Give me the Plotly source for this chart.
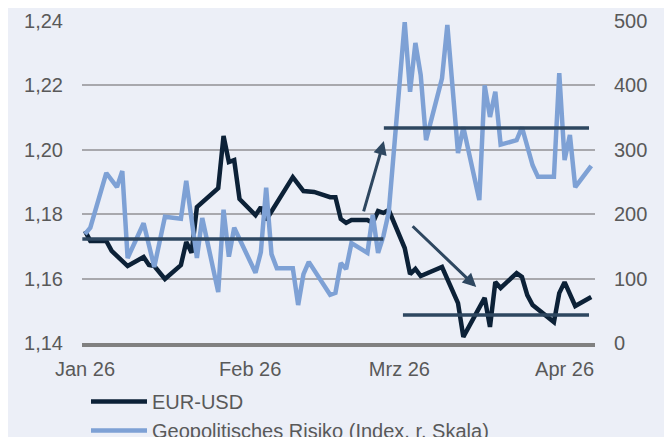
import plotly.graph_objects as go

# ---------------- data ----------------
eur_dates = ["2026-01-01", "2026-01-02", "2026-01-05", "2026-01-06", "2026-01-09",
             "2026-01-12", "2026-01-13", "2026-01-14", "2026-01-16", "2026-01-19",
             "2026-01-20", "2026-01-21", "2026-01-22", "2026-01-26", "2026-01-27",
             "2026-01-28", "2026-01-29", "2026-01-30", "2026-02-02", "2026-02-03",
             "2026-02-04", "2026-02-09", "2026-02-11", "2026-02-13", "2026-02-16",
             "2026-02-17", "2026-02-18", "2026-02-19", "2026-02-20", "2026-02-23",
             "2026-02-24", "2026-02-25", "2026-02-26", "2026-02-27", "2026-03-02",
             "2026-03-03", "2026-03-04", "2026-03-05", "2026-03-09", "2026-03-10",
             "2026-03-12", "2026-03-13", "2026-03-17", "2026-03-18", "2026-03-19",
             "2026-03-20", "2026-03-23", "2026-03-24", "2026-03-25", "2026-03-26",
             "2026-03-27", "2026-03-30", "2026-03-31", "2026-04-01", "2026-04-03",
             "2026-04-06"]
eur_usd = [1.1748, 1.1717, 1.1717, 1.1686, 1.1639,
           1.1667, 1.1642, 1.1639, 1.1599, 1.1642,
           1.1714, 1.1680, 1.1822, 1.1881, 1.2043,
           1.1962, 1.1968, 1.1847, 1.1797, 1.1822,
           1.1782, 1.1915, 1.1872, 1.1869, 1.1853,
           1.1853, 1.1785, 1.1773, 1.1782, 1.1782,
           1.1773, 1.1810, 1.1804, 1.1813, 1.1695,
           1.1614, 1.1630, 1.1608, 1.1636, 1.1596,
           1.1524, 1.1419, 1.1540, 1.1450, 1.1589,
           1.1571, 1.1617, 1.1605, 1.1549, 1.1518,
           1.1505, 1.1465, 1.1555, 1.1589, 1.1515,
           1.1543]

gpr_dates = ["2026-01-01", "2026-01-02", "2026-01-05", "2026-01-07", "2026-01-08",
             "2026-01-09", "2026-01-12", "2026-01-14", "2026-01-16", "2026-01-19",
             "2026-01-20", "2026-01-22", "2026-01-23", "2026-01-26", "2026-01-27",
             "2026-01-28", "2026-01-29", "2026-02-02", "2026-02-03", "2026-02-04",
             "2026-02-05", "2026-02-06", "2026-02-09", "2026-02-10", "2026-02-11",
             "2026-02-12", "2026-02-16", "2026-02-17", "2026-02-18", "2026-02-19",
             "2026-02-20", "2026-02-23", "2026-02-24", "2026-02-25", "2026-02-26",
             "2026-02-27", "2026-03-02", "2026-03-03", "2026-03-04", "2026-03-05",
             "2026-03-06", "2026-03-09", "2026-03-10", "2026-03-12", "2026-03-13",
             "2026-03-16", "2026-03-17", "2026-03-18", "2026-03-19", "2026-03-20",
             "2026-03-23", "2026-03-24", "2026-03-26", "2026-03-27", "2026-03-30",
             "2026-03-31", "2026-04-01", "2026-04-02", "2026-04-03", "2026-04-06"]
gpr_index = [169, 179, 264, 242, 267,
             132, 186, 118, 196, 193,
             252, 132, 194, 79, 207,
             134, 179, 109, 141, 241,
             138, 116, 116, 59, 107,
             126, 75, 78, 124, 115,
             155, 140, 199, 140, 166,
             203, 498, 390, 466, 416,
             315, 411, 494, 295, 335,
             222, 400, 351, 390, 308,
             315, 335, 276, 258, 258,
             419, 284, 323, 242, 275]

# average levels (start, end, value, axis)
level_start = ["2025-12-31 12:00", "2026-02-26 02:00", "2026-03-01 16:00"]
level_end = ["2026-02-26 00:00", "2026-04-05 14:00", "2026-04-05 14:00"]
level_value = [1.1723, 334, 1.1487]
level_axis = ["y", "y2", "y"]

# arrows (tail -> tip) on the left axis
arrow_tail_x = ["2026-02-22 05:00", "2026-03-03 05:00"]
arrow_tail_y = [1.1804, 1.1767]
arrow_tip_x = ["2026-02-26 02:00", "2026-03-15 10:00"]
arrow_tip_y = [1.2027, 1.1574]

tick_dates = ["2026-01-01", "2026-02-01", "2026-03-01", "2026-04-01"]
tick_labels = ["Jan 26", "Feb 26", "Mrz 26", "Apr 26"]

# ---------------- style ----------------
BG = "#eceff7"
DARK = "#0c2137"
LIGHT = "#7ea1d5"
SLATE = "#2e4760"
GRID = "#a8a8ad"
TXT = "#595959"
FONT = "Liberation Sans, Arial, sans-serif"

fig = go.Figure()
fig.add_trace(go.Scatter(x=eur_dates, y=eur_usd, mode="lines", name="EUR-USD",
                         line=dict(color=DARK, width=4.5), yaxis="y"))
fig.add_trace(go.Scatter(x=gpr_dates, y=gpr_index, mode="lines",
                         name="Geopolitisches Risiko (Index, r. Skala)",
                         line=dict(color=LIGHT, width=4.5), yaxis="y2"))

shapes = []
for xs, xe, v, ax in zip(level_start, level_end, level_value, level_axis):
    shapes.append(dict(type="line", xref="x", yref=ax, x0=xs, x1=xe, y0=v, y1=v,
                       line=dict(color=SLATE, width=3.5), layer="above"))

annotations = []
for tx, ty, hx, hy in zip(arrow_tail_x, arrow_tail_y, arrow_tip_x, arrow_tip_y):
    annotations.append(dict(x=hx, y=hy, ax=tx, ay=ty, xref="x", yref="y",
                            axref="x", ayref="y", text="", showarrow=True,
                            arrowhead=2, arrowsize=0.9, arrowwidth=3,
                            arrowcolor=SLATE, standoff=0))

fig.update_layout(
    width=672, height=437,
    margin=dict(l=74, r=85, t=13, b=102, autoexpand=False),
    paper_bgcolor=BG, plot_bgcolor=BG,
    separators=",.",
    font=dict(family=FONT, size=20, color=TXT),
    showlegend=True,
    legend=dict(xref="container", yref="container", x=78 / 672, y=1 - 374 / 437,
                xanchor="left", yanchor="top",
                bgcolor="rgba(0,0,0,0)", font=dict(size=20, color=TXT),
                itemwidth=56, tracegroupgap=0),
    xaxis=dict(type="date", range=["2025-12-31 10:30", "2026-04-06 17:00"],
               tickvals=tick_dates, ticktext=tick_labels, showgrid=False,
               showline=True, linecolor="#808080", linewidth=3.5,
               ticks="", ticklabelstandoff=5, zeroline=False, automargin=False,
               tickfont=dict(size=20, color=TXT)),
    yaxis=dict(range=[1.14, 1.24], dtick=0.02, tickformat=".2f",
               showgrid=True, gridcolor=GRID, gridwidth=1.5, zeroline=False,
               ticks="", ticklabelstandoff=18, automargin=False,
               tickfont=dict(size=20, color=TXT)),
    yaxis2=dict(range=[0, 500], dtick=100, overlaying="y", side="right",
                showgrid=False, zeroline=False, ticks="", ticklabelstandoff=18,
                automargin=False, tickfont=dict(size=20, color=TXT)),
    shapes=shapes,
    annotations=annotations,
)

fig.write_html("out.html")
